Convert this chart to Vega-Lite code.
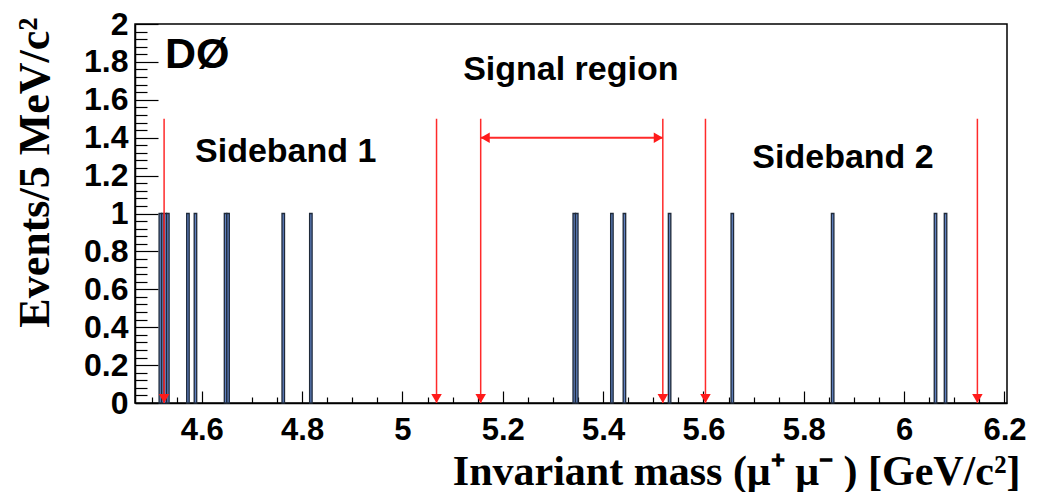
{
  "$schema": "https://vega.github.io/schema/vega-lite/v6.json",
  "autosize": "none",
  "width": 872,
  "height": 379,
  "padding": {"left": 135, "top": 24, "right": 30, "bottom": 89},
  "background": "white",
  "config": {"view": {"stroke": "#000", "strokeWidth": 1.5}, "axis": {"grid": false}},
  "datasets": {
    "bins": [
      {"lo": 4.515, "hi": 4.520, "n": 1},
      {"lo": 4.520, "hi": 4.525, "n": 1},
      {"lo": 4.525, "hi": 4.530, "n": 1},
      {"lo": 4.530, "hi": 4.535, "n": 1},
      {"lo": 4.570, "hi": 4.575, "n": 1},
      {"lo": 4.585, "hi": 4.590, "n": 1},
      {"lo": 4.645, "hi": 4.650, "n": 1},
      {"lo": 4.650, "hi": 4.655, "n": 1},
      {"lo": 4.760, "hi": 4.765, "n": 1},
      {"lo": 4.815, "hi": 4.820, "n": 1},
      {"lo": 5.340, "hi": 5.345, "n": 1},
      {"lo": 5.345, "hi": 5.350, "n": 1},
      {"lo": 5.415, "hi": 5.420, "n": 1},
      {"lo": 5.440, "hi": 5.445, "n": 1},
      {"lo": 5.530, "hi": 5.535, "n": 1},
      {"lo": 5.655, "hi": 5.660, "n": 1},
      {"lo": 5.855, "hi": 5.860, "n": 1},
      {"lo": 6.060, "hi": 6.065, "n": 1},
      {"lo": 6.080, "hi": 6.085, "n": 1}
    ],
    "cuts": [
      {"m": 4.525, "top": 1.5, "base": 0},
      {"m": 5.068, "top": 1.5, "base": 0},
      {"m": 5.156, "top": 1.5, "base": 0},
      {"m": 5.519, "top": 1.5, "base": 0},
      {"m": 5.604, "top": 1.5, "base": 0},
      {"m": 6.146, "top": 1.5, "base": 0}
    ],
    "window": [
      {"from": 5.156, "to": 5.519, "level": 1.4}
    ],
    "labels": [
      {"text": "DØ", "x": 4.5267, "y": 1.836, "kind": "exp"},
      {"text": "Signal region", "x": 5.121, "y": 1.757, "kind": "region"},
      {"text": "Sideband 1", "x": 4.5866, "y": 1.3245, "kind": "region"},
      {"text": "Sideband 2", "x": 5.6975, "y": 1.293, "kind": "region"}
    ]
  },
  "layer": [
    {
      "data": {"name": "bins"},
      "mark": {"type": "rect", "fill": "#5f80c0", "stroke": "#1f2a3a", "strokeWidth": 1.3},
      "encoding": {
        "x": {
          "field": "lo", "type": "quantitative",
          "scale": {"domain": [4.467, 6.205], "nice": false, "zero": false},
          "axis": {
            "title": "Invariant mass (μ⁺ μ⁻ ) [GeV/c²]",
            "values": [4.5, 4.55, 4.6, 4.65, 4.7, 4.75, 4.8, 4.85, 4.9, 4.95, 5.0, 5.05, 5.1, 5.15, 5.2, 5.25, 5.3, 5.35, 5.4, 5.45, 5.5, 5.55, 5.6, 5.65, 5.7, 5.75, 5.8, 5.85, 5.9, 5.95, 6.0, 6.05, 6.1, 6.15, 6.2],
            "tickCount": 1000,
            "labelExpr": "abs(datum.value*5 - round(datum.value*5)) < 0.001 ? format(datum.value, '~g') : ''",
            "labelFlush": false,
            "labelOverlap": false,
            "labelFont": "Liberation Sans",
            "labelFontWeight": "bold",
            "labelFontSize": {"condition": {"test": "abs(datum.value*5 - round(datum.value*5)) < 0.001", "value": 31}, "value": 1},
            "labelColor": "#000",
            "labelBaseline": "top",
            "labelPadding": {"condition": {"test": "abs(datum.value*5 - round(datum.value*5)) < 0.001", "value": 24}, "value": 19},
            "tickColor": "#000",
            "tickWidth": 1.2,
            "tickSize": {"condition": {"test": "abs(datum.value*5 - round(datum.value*5)) < 0.001", "value": -12}, "value": -6},
            "domainColor": "#000",
            "domainWidth": 1.5,
            "titleFont": "Liberation Serif",
            "titleFontWeight": "bold",
            "titleFontSize": 42,
            "titleColor": "#000",
            "titleAnchor": "end",
            "titleAlign": "right",
            "titleBaseline": "middle",
            "titleX": 885,
            "titleY": 68
          }
        },
        "x2": {"field": "hi"},
        "y": {
          "field": "n", "type": "quantitative",
          "scale": {"domain": [0, 2], "nice": false},
          "axis": {
            "title": "Events/5 MeV/c²",
            "values": [0, 0.04, 0.08, 0.12, 0.16, 0.2, 0.24, 0.28, 0.32, 0.36, 0.4, 0.44, 0.48, 0.52, 0.56, 0.6, 0.64, 0.68, 0.72, 0.76, 0.8, 0.84, 0.88, 0.92, 0.96, 1.0, 1.04, 1.08, 1.12, 1.16, 1.2, 1.24, 1.28, 1.32, 1.36, 1.4, 1.44, 1.48, 1.52, 1.56, 1.6, 1.64, 1.68, 1.72, 1.76, 1.8, 1.84, 1.88, 1.92, 1.96, 2.0],
            "tickCount": 1000,
            "labelExpr": "abs(datum.value*5 - round(datum.value*5)) < 0.001 ? format(datum.value, '~g') : ''",
            "labelFlush": false,
            "labelOverlap": false,
            "labelFont": "Liberation Sans",
            "labelFontWeight": "bold",
            "labelFontSize": {"condition": {"test": "abs(datum.value*5 - round(datum.value*5)) < 0.001", "value": 32}, "value": 1},
            "labelColor": "#000",
            "labelPadding": {"condition": {"test": "abs(datum.value*5 - round(datum.value*5)) < 0.001", "value": 30}, "value": 19},
            "tickColor": "#000",
            "tickWidth": 1.2,
            "tickSize": {"condition": {"test": "abs(datum.value*5 - round(datum.value*5)) < 0.001", "value": -23}, "value": -12},
            "domainColor": "#000",
            "domainWidth": 1.5,
            "titleFont": "Liberation Serif",
            "titleFontWeight": "bold",
            "titleFontSize": 44,
            "titleColor": "#000",
            "titleAnchor": "end",
            "titleAlign": "right",
            "titleBaseline": "middle",
            "titleAngle": -90,
            "titleX": -100,
            "titleY": -7
          }
        },
        "y2": {"datum": 0}
      }
    },
    {
      "data": {"name": "cuts"},
      "mark": {"type": "rule", "color": "#ff2a2a", "strokeWidth": 1.5},
      "encoding": {
        "x": {"field": "m", "type": "quantitative"},
        "y": {"field": "base", "type": "quantitative"},
        "y2": {"field": "top"}
      }
    },
    {
      "data": {"name": "cuts"},
      "mark": {"type": "point", "shape": "triangle-down", "filled": true, "color": "#ff1a1a", "size": 110, "opacity": 1, "yOffset": -4.5},
      "encoding": {
        "x": {"field": "m", "type": "quantitative"},
        "y": {"field": "base", "type": "quantitative"}
      }
    },
    {
      "data": {"name": "window"},
      "mark": {"type": "rule", "color": "#ff2a2a", "strokeWidth": 2},
      "encoding": {
        "x": {"field": "from", "type": "quantitative"},
        "x2": {"field": "to"},
        "y": {"field": "level", "type": "quantitative"}
      }
    },
    {
      "data": {"name": "window"},
      "mark": {"type": "point", "shape": "triangle-left", "filled": true, "color": "#ff1a1a", "size": 110, "opacity": 1, "xOffset": 4.5},
      "encoding": {
        "x": {"field": "from", "type": "quantitative"},
        "y": {"field": "level", "type": "quantitative"}
      }
    },
    {
      "data": {"name": "window"},
      "mark": {"type": "point", "shape": "triangle-right", "filled": true, "color": "#ff1a1a", "size": 110, "opacity": 1, "xOffset": -4.5},
      "encoding": {
        "x": {"field": "to", "type": "quantitative"},
        "y": {"field": "level", "type": "quantitative"}
      }
    },
    {
      "data": {"name": "labels"},
      "transform": [{"filter": "datum.kind == 'region'"}],
      "mark": {"type": "text", "align": "left", "baseline": "middle", "font": "Liberation Sans", "fontWeight": "bold", "fontSize": 34, "color": "#000"},
      "encoding": {
        "x": {"field": "x", "type": "quantitative"},
        "y": {"field": "y", "type": "quantitative"},
        "text": {"field": "text"}
      }
    },
    {
      "data": {"name": "labels"},
      "transform": [{"filter": "datum.kind == 'exp'"}],
      "mark": {"type": "text", "align": "left", "baseline": "middle", "font": "Liberation Sans", "fontWeight": "bold", "fontSize": 43, "color": "#000"},
      "encoding": {
        "x": {"field": "x", "type": "quantitative"},
        "y": {"field": "y", "type": "quantitative"},
        "text": {"field": "text"}
      }
    }
  ]
}
